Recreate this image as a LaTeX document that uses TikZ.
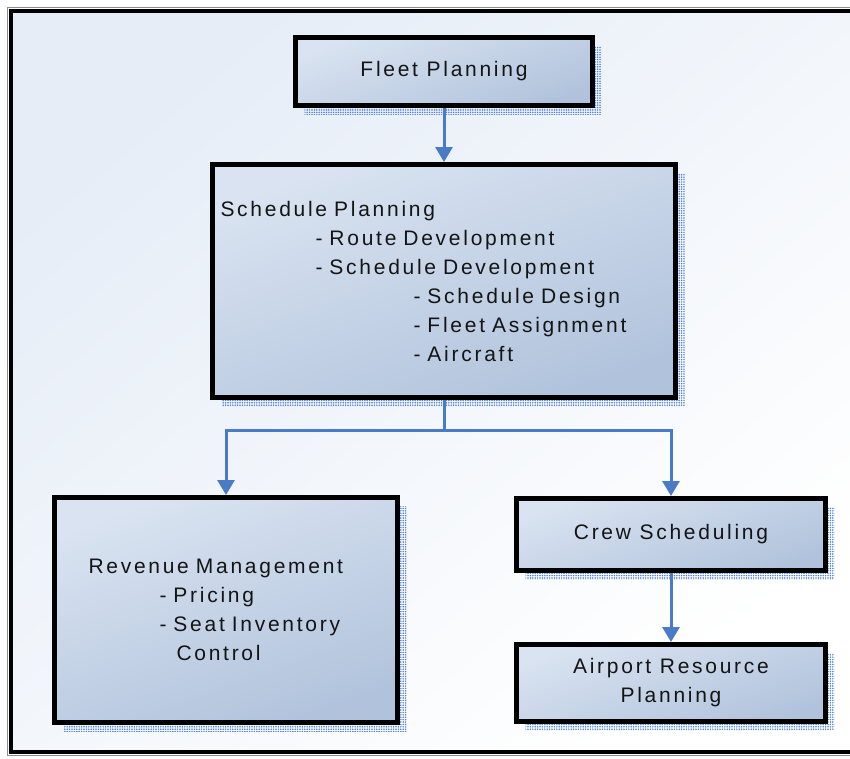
\documentclass[tikz,border=0pt]{standalone}
\usepackage{fontspec}
\setmainfont{Liberation Sans}[LetterSpace=13]
\usetikzlibrary{arrows.meta,patterns.meta,calc}
\definecolor{panelblue}{HTML}{E6EDF7}
\definecolor{boxlight}{HTML}{D9E3F1}
\definecolor{boxdark}{HTML}{B1C3DC}
\definecolor{linkblue}{HTML}{4A7BC6}
\definecolor{dotblue}{HTML}{4F80D6}
\begin{document}
\begin{tikzpicture}[x=1pt,y=-1pt,
  every node/.style={font=\fontsize{21}{29}\selectfont, text=black!92},
  planbox/.style={draw=black, line width=5pt, anchor=north west,
    top color=boxlight, bottom color=boxdark, shading angle=20,
    inner ysep=0pt,
    preaction={pattern={Dots[distance=2.4pt,radius=0.85pt]}, pattern color=dotblue,
      transform canvas={xshift=9pt,yshift=-9pt}}},
  conn/.style={linkblue, line width=3pt,
    -{Triangle[length=15pt,width=17pt]}},
]
\useasboundingbox (0,0) rectangle (850,758);
% framed panel behind the chart, open on the right
\path[top color=panelblue, bottom color=white, shading angle=40]
  (11,11) rectangle (850,752);
\draw[black!45, line width=1pt, line cap=butt] (850,7.5) -- (7.5,7.5) -- (7.5,755.5) -- (850,755.5);
\draw[black, line width=4.5pt, line cap=butt] (850,11) -- (11,11) -- (11,752) -- (850,752);

% planning stages
\node[planbox, minimum width=297pt, minimum height=68pt, align=center]
  (fleet) at (293,35) {Fleet Planning};
\node[planbox, minimum width=463pt, minimum height=233pt, inner xsep=8pt,
  text width=447pt, align=left]
  (sched) at (210,162) {Schedule Planning\\
  \hspace*{95pt}- Route Development\\
  \hspace*{95pt}- Schedule Development\\
  \hspace*{193pt}- Schedule Design\\
  \hspace*{193pt}- Fleet Assignment\\
  \hspace*{193pt}- Aircraft};
\node[planbox, minimum width=343pt, minimum height=225pt, inner xsep=34pt,
  text width=275pt, align=left]
  (rev) at (52,495) {Revenue Management\\
  \hspace*{71pt}- Pricing\\
  \hspace*{71pt}- Seat Inventory\\
  \hspace*{88pt}Control};
\node[planbox, minimum width=309pt, minimum height=72pt, align=center]
  (crew) at (514,496) {Crew Scheduling};
\node[planbox, minimum width=309pt, minimum height=77pt, align=center]
  (airport) at (514,642) {Airport Resource\\Planning};

% flow between stages
\draw[conn] (fleet.south) -- (sched.north);
\draw[conn] (sched.south) -- ++(0,30) coordinate (split) -| (rev.north);
\draw[conn] (split) -| (crew.north);
\draw[conn] (crew.south) -- (airport.north);
\end{tikzpicture}
\end{document}
